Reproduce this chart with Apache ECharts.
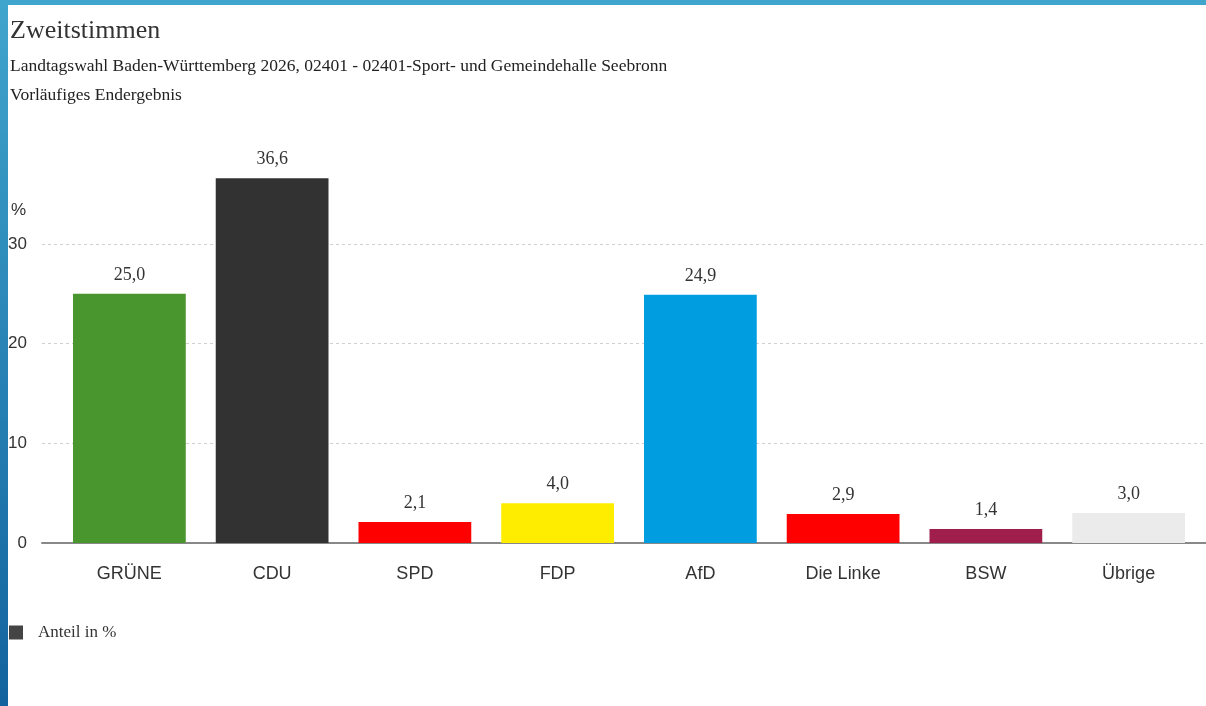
<!DOCTYPE html>
<html>
<head>
<meta charset="utf-8">
<script src="https://cdn.jsdelivr.net/npm/echarts@6/dist/echarts.min.js"></script>
<style>
  html, body { margin: 0; padding: 0; background: #fff; }
  #chart { width: 1206px; height: 706px; }
</style>
</head>
<body>
<div id="chart"></div>
<script>
// Zweitstimmen, Anteil in %
var parties = ['GRÜNE', 'CDU', 'SPD', 'FDP', 'AfD', 'Die Linke', 'BSW', 'Übrige'];
var shares = [25.0, 36.6, 2.1, 4.0, 24.9, 2.9, 1.4, 3.0];
var partyColors = ['#4a962e', '#323232', '#ff0000', '#ffed00', '#009ee0', '#ff0000', '#a01e4c', '#ebebeb'];
var yTicks = [0, 10, 20, 30];

var serif = "'Liberation Serif', 'DejaVu Serif', serif";
var sans = "'Liberation Sans', Arial, sans-serif";

var chart = echarts.init(document.getElementById('chart'));

chart.setOption({
  animation: false,
  title: {
    text: 'Zweitstimmen',
    subtext: 'Landtagswahl Baden-Württemberg 2026, 02401 - 02401-Sport- und Gemeindehalle Seebronn\nVorläufiges Endergebnis',
    left: 5,
    top: 13,
    itemGap: 8,
    textStyle: { fontFamily: serif, fontSize: 26, fontWeight: 'normal', color: '#333' },
    subtextStyle: { fontFamily: serif, fontSize: 17.5, color: '#222', lineHeight: 29 }
  },
  legend: {
    left: 4,
    top: 619,
    icon: 'rect',
    itemWidth: 14,
    itemHeight: 14,
    data: ['Anteil in %'],
    textStyle: { fontFamily: serif, fontSize: 17, color: '#333', padding: [0, 0, 0, 10] }
  },
  // two grids: one for the bars, one (a bit wider) for the gridlines and axis line
  grid: [
    { left: 58, right: 6, top: 244, bottom: 163 },
    { left: 42, right: 0, top: 244, bottom: 163 }
  ],
  xAxis: [{
    type: 'category',
    gridIndex: 0,
    data: parties,
    axisLine: { show: false },
    axisTick: { show: false },
    axisLabel: { margin: 22, fontFamily: sans, fontSize: 18, color: '#333' }
  }, {
    type: 'value',
    gridIndex: 1,
    min: 0,
    max: 1,
    axisLine: { show: true, lineStyle: { color: '#888', width: 2 } },
    axisTick: { show: false },
    axisLabel: { show: false },
    splitLine: { show: false }
  }],
  yAxis: [{
    type: 'value',
    gridIndex: 0,
    min: 0,
    max: 30,
    interval: 10,
    axisLine: { show: false },
    axisTick: { show: false },
    axisLabel: { show: false },
    splitLine: { show: false }
  }, {
    type: 'value',
    gridIndex: 1,
    min: yTicks[0],
    max: yTicks[yTicks.length - 1],
    interval: 10,
    name: '%',
    nameGap: 25,
    nameTextStyle: { fontFamily: sans, fontSize: 17, color: '#333', align: 'right', padding: [0, 16, 0, 0] },
    axisLine: { show: false },
    axisTick: { show: false },
    axisLabel: { margin: 15, fontFamily: sans, fontSize: 17, color: '#333' },
    splitLine: { show: true, lineStyle: { color: '#d0d0d0', type: [3, 3] } }
  }],
  series: [{
    name: 'Anteil in %',
    type: 'bar',
    xAxisIndex: 0,
    yAxisIndex: 0,
    clip: false,
    barCategoryGap: '21%',
    itemStyle: { color: '#444' },
    label: {
      show: true,
      position: 'top',
      distance: 10,
      fontFamily: serif,
      fontSize: 18,
      color: '#333',
      formatter: function (p) { return p.value.toFixed(1).replace('.', ','); }
    },
    data: shares.map(function (v, i) {
      return { value: v, itemStyle: { color: partyColors[i] } };
    })
  }],
  graphic: [{
    type: 'rect',
    left: 0, top: 0, z: 100,
    shape: { width: 1206, height: 5 },
    style: { fill: '#40a5cd' }
  }, {
    type: 'rect',
    left: 0, top: 0, z: 100,
    shape: { width: 8, height: 706 },
    style: {
      fill: new echarts.graphic.LinearGradient(0, 0, 0, 1, [
        { offset: 0, color: '#40a5cd' },
        { offset: 1, color: '#12639e' }
      ])
    }
  }]
});
</script>
</body>
</html>
